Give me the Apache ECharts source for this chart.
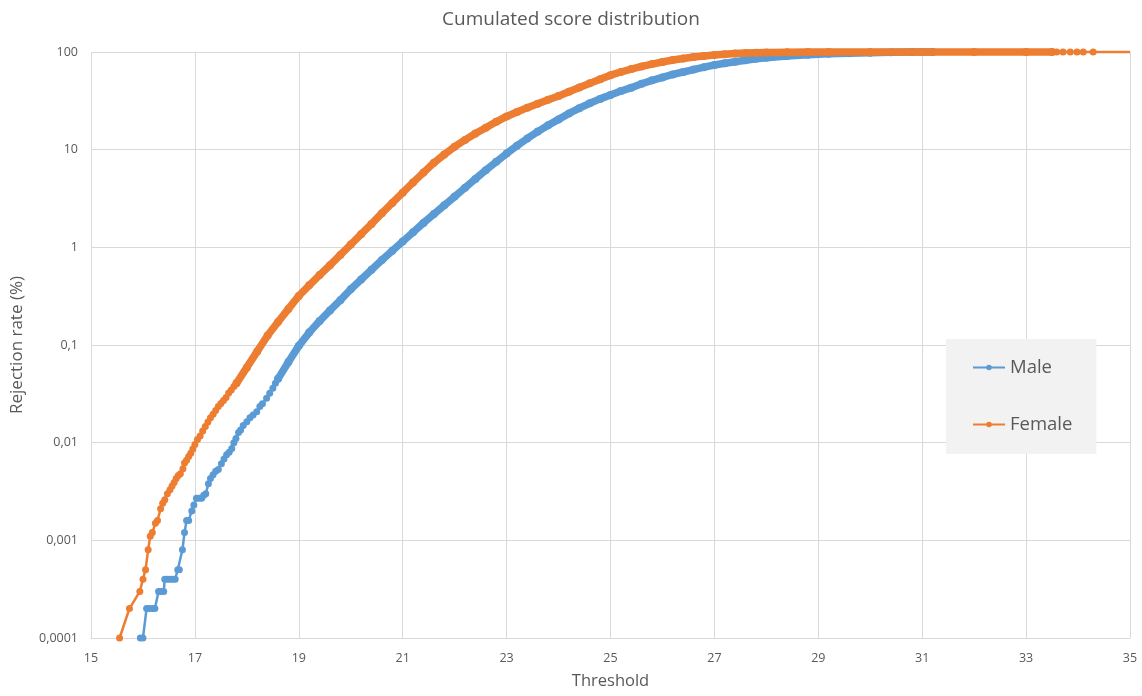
<!DOCTYPE html>
<html>
<head>
<meta charset="utf-8">
<script src="https://cdn.jsdelivr.net/npm/echarts@6/dist/echarts.min.js"></script>
<style>
html,body{margin:0;padding:0;background:#fff;}
#chart{width:1142px;height:696px;}
</style>
</head>
<body>
<div id="chart"></div>
<script>
// ---- Data ----
const titleText = 'Cumulated score distribution';
const seriesNames = ['Male', 'Female'];
const yTickLabels = ['0,0001', '0,001', '0,01', '0,1', '1', '10', '100'];

// Male: sparse low part (individual points visible)
const maleSparseX = [15.95,16.0,16.07,16.12,16.18,16.23,16.3,16.35,16.4,16.42,16.47,16.52,16.57,16.62,16.67,16.7,16.76,16.8,16.84,16.88,16.94,16.98,17.03,17.08,17.13,17.17,17.21,17.26,17.3,17.35,17.4,17.45,17.51,17.56,17.61,17.66,17.71,17.75,17.79,17.84,17.88,17.93,18.0,18.06,18.12,18.19,18.25,18.3,18.38,18.44,18.5,18.55,18.6];
const maleSparseY = [0.0001,0.0001,0.0002,0.0002,0.0002,0.0002,0.0003,0.0003,0.0003,0.0004,0.0004,0.0004,0.0004,0.0004,0.0005,0.0005,0.0008,0.0012,0.0016,0.0016,0.002,0.0023,0.0027,0.0027,0.0027,0.0029,0.003,0.0038,0.0043,0.0047,0.0051,0.0053,0.0061,0.0068,0.0075,0.008,0.0087,0.01,0.011,0.0127,0.0135,0.015,0.0164,0.018,0.0192,0.0207,0.0235,0.025,0.0285,0.032,0.036,0.0405,0.045];
// Male: dense part (points merge into a band)
const maleDenseX = [18.6,18.8,19.0,19.2,19.4,19.6,19.8,20.0,20.2,20.4,20.6,20.8,21.0,21.2,21.4,21.6,21.8,22.0,22.2,22.4,22.6,22.8,23.0,23.2,23.4,23.6,23.8,24.0,24.2,24.4,24.6,24.8,25.0,25.2,25.4,25.6,25.8,26.0,26.2,26.4,26.6,26.8,27.0,27.2,27.4,27.6,27.8,28.0,28.4,28.8,29.2,29.6,30.0,30.4,30.8,31.2];
const maleDenseY = [0.045,0.067,0.098,0.134,0.176,0.226,0.288,0.372,0.468,0.589,0.741,0.923,1.148,1.429,1.778,2.188,2.692,3.311,4.074,5.012,6.166,7.499,9.12,10.96,13.03,15.31,17.78,20.42,23.44,26.61,29.85,33.11,36.31,39.81,43.15,47.32,51.29,54.95,58.88,62.37,66.07,69.98,73.62,76.74,79.43,82.22,85.11,87.5,91.2,93.76,95.72,97.27,98.4,99.3,99.8,100];

// Female: sparse low part
const femaleSparseX = [15.55,15.74,15.94,16.0,16.05,16.1,16.14,16.18,16.24,16.28,16.34,16.38,16.42,16.47,16.52,16.56,16.6,16.64,16.68,16.72,16.77,16.8,16.84,16.88,16.92,16.96,17.0,17.05,17.1,17.15,17.2,17.25,17.3,17.35,17.4,17.45,17.5,17.55,17.6,17.65,17.7,17.75,17.8];
const femaleSparseY = [0.0001,0.0002,0.0003,0.0004,0.0005,0.0008,0.0011,0.0012,0.0015,0.0016,0.0021,0.0024,0.0026,0.003,0.0033,0.0036,0.0039,0.0043,0.0046,0.0048,0.0054,0.0062,0.0066,0.0072,0.0078,0.0086,0.0096,0.0108,0.0117,0.0132,0.0146,0.0163,0.018,0.0195,0.0214,0.0234,0.0252,0.027,0.029,0.0322,0.0347,0.0376,0.0405];
// Female: dense part
const femaleDenseX = [17.8,18.0,18.2,18.4,18.6,18.8,19.0,19.2,19.4,19.6,19.8,20.0,20.2,20.4,20.6,20.8,21.0,21.2,21.4,21.6,21.8,22.0,22.2,22.4,22.6,22.8,23.0,23.2,23.4,23.6,23.8,24.0,24.2,24.4,24.6,24.8,25.0,25.2,25.4,25.6,25.8,26.0,26.2,26.4,26.6,26.8,27.0,27.2,27.4,27.6,27.8,28.0,28.4,28.8,29.2,30.0,31.0,32.0,33.0,33.5];
const femaleDenseY = [0.0405,0.059,0.086,0.125,0.172,0.234,0.318,0.408,0.52,0.656,0.836,1.068,1.365,1.738,2.239,2.851,3.631,4.624,5.821,7.328,8.913,10.72,12.59,14.62,16.79,19.28,21.88,24.27,26.92,29.51,32.36,35.48,39.17,43.25,47.75,52.72,57.94,62.37,66.83,71.12,75.16,79.07,82.79,85.9,88.72,91.2,93.11,94.84,96.38,97.5,98.4,99.08,99.54,99.77,100,100,100,100,100,100];
// Female: sparse tail at the top right
const femaleTailX = [33.5,33.59,33.71,33.85,33.98,34.1,34.29,35];
const femaleTailY = [100,100,100,100,100,100,100,100];

// ---- Chart ----
const BLUE = '#5b9bd5', ORANGE = '#ed7d31', TXT = '#595959', GRID = '#d9d9d9';
const FONT = '"Open Sans", "Noto Sans", sans-serif';

function zip(xs, ys, lastNoSymbol) {
  return xs.map((x, i) => {
    if (lastNoSymbol && i === xs.length - 1) return { value: [x, ys[i]], symbol: 'none' };
    return [x, ys[i]];
  });
}

function sparse(name, color, data, z) {
  return {
    name, type: 'line', data, color, clip: false, z,
    symbol: 'circle', symbolSize: 7, showAllSymbol: true,
    lineStyle: { width: 2.5, color }, itemStyle: { color },
    emphasis: { disabled: true }, animation: false
  };
}
function dense(name, color, data, z) {
  return {
    name, type: 'line', data, color, clip: false, z,
    symbol: 'circle', symbolSize: 8, showAllSymbol: true,
    lineStyle: { width: 7.5, color, cap: 'round', join: 'round' }, itemStyle: { color },
    emphasis: { disabled: true }, animation: false
  };
}

const chart = echarts.init(document.getElementById('chart'), null, { renderer: 'canvas' });
chart.setOption({
  backgroundColor: '#ffffff',
  animation: false,
  textStyle: { fontFamily: FONT },
  title: {
    text: titleText, left: 'center', top: 5,
    textStyle: { color: TXT, fontSize: 19, fontWeight: 'normal', fontFamily: FONT }
  },
  grid: { left: 91, right: 12, top: 52, bottom: 58, containLabel: false },
  legend: {
    data: seriesNames, orient: 'vertical', left: 946, top: 339,
    backgroundColor: '#f2f2f2', padding: [19, 24, 20, 26], itemGap: 38,
    itemWidth: 32, itemHeight: 7, selectedMode: false,
    textStyle: { color: TXT, fontSize: 18.5, fontFamily: FONT }
  },
  xAxis: {
    type: 'value', min: 15, max: 35, interval: 2,
    name: 'Threshold', nameLocation: 'middle', nameGap: 35,
    nameTextStyle: { color: TXT, fontSize: 16.5, fontFamily: FONT },
    axisLine: { show: true, lineStyle: { color: GRID, width: 1 } },
    axisTick: { show: false },
    axisLabel: { color: TXT, fontSize: 12.5, margin: 14, fontFamily: FONT },
    splitLine: { show: true, lineStyle: { color: GRID, width: 1 } }
  },
  yAxis: {
    type: 'log', logBase: 10, min: 0.0001, max: 100,
    name: 'Rejection rate (%)', nameLocation: 'middle', nameGap: 65,
    nameTextStyle: { color: TXT, fontSize: 17, fontFamily: FONT },
    axisLine: { show: false }, axisTick: { show: false },
    axisLabel: {
      color: TXT, fontSize: 12.5, margin: 13, fontFamily: FONT,
      formatter: v => yTickLabels[Math.round(Math.log10(v)) + 4]
    },
    splitLine: { show: true, lineStyle: { color: GRID, width: 1 } }
  },
  series: [
    sparse('Male', BLUE, zip(maleSparseX, maleSparseY), 2),
    dense('Male', BLUE, zip(maleDenseX, maleDenseY), 2),
    sparse('Female', ORANGE, zip(femaleSparseX, femaleSparseY), 3),
    dense('Female', ORANGE, zip(femaleDenseX, femaleDenseY), 3),
    sparse('Female', ORANGE, zip(femaleTailX, femaleTailY, true), 3)
  ]
});
</script>
</body>
</html>
